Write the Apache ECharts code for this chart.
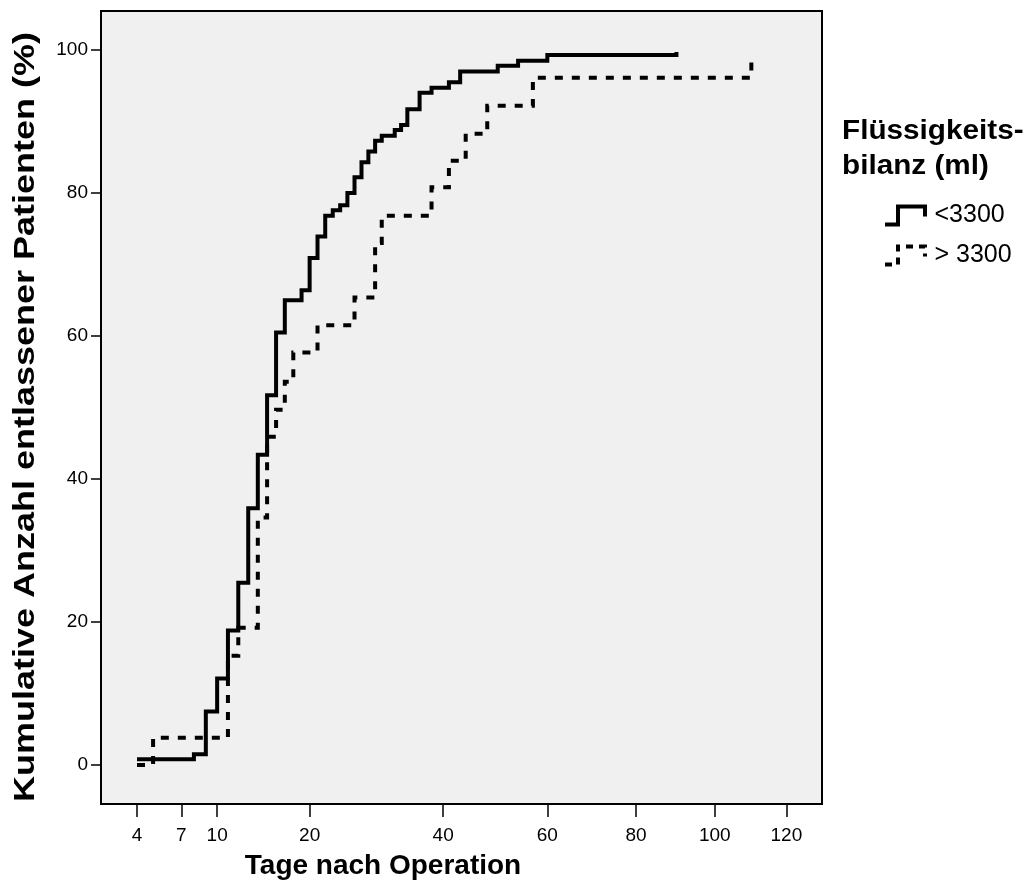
<!DOCTYPE html>
<html><head><meta charset="utf-8">
<script src="https://cdn.jsdelivr.net/npm/echarts@6/dist/echarts.min.js"></script>
<style>html,body{margin:0;padding:0;background:#fff}#c{width:1030px;height:896px}</style>
</head><body><div id="c"></div>
<script>
// ---- data ----
const xTicks = [4, 7, 10, 20, 40, 60, 80, 100, 120];
const yTicks = [0, 20, 40, 60, 80, 100];
const seriesNames = ['<3300', '> 3300'];
const lowDays = [4, 8, 9, 10, 11, 12, 13, 14, 15, 16, 17, 19, 20, 21, 22, 23, 24, 25, 26, 27, 28, 29, 30, 32, 33, 34, 36, 38, 41, 43, 50, 54, 60, 90];
const lowPct  = [0.8, 1.5, 7.5, 12.1, 18.8, 25.5, 35.9, 43.4, 51.7, 60.5, 65.0, 66.4, 70.9, 73.9, 76.8, 77.6, 78.3, 80.0, 82.2, 84.3, 85.8, 87.3, 88.0, 88.8, 89.5, 91.7, 94.0, 94.7, 95.5, 97.0, 97.8, 98.5, 99.3, 99.7];
const highDays = [4, 5, 11, 12, 14, 15, 16, 17, 18, 21, 26, 29, 30, 38, 41, 44, 48, 57, 110];
const highPct  = [0, 3.8, 15.3, 19.2, 34.6, 45.9, 49.7, 53.6, 57.7, 61.5, 65.4, 73.0, 76.8, 80.8, 84.5, 88.3, 92.2, 96.1, 99.1];
const xTitle = 'Tage nach Operation';
const yTitle = 'Kumulative Anzahl entlassener Patienten (%)';
const legendTitle = 'Flüssigkeits-\nbilanz (ml)';

// power scale of the day axis
const P = 0.53;
const tx = d => Math.pow(d, P);
const FONT = '"Liberation Sans", Arial, sans-serif';

const chart = echarts.init(document.getElementById('c'), null, {renderer: 'canvas'});
const iconPath = 'path://M0,18L13,18L13,0L40,0L40,10';
chart.setOption({
  animation: false,
  backgroundColor: '#ffffff',
  grid: {left: 101, top: 11, right: 208, bottom: 92, show: true,
         backgroundColor: '#f0f0f0', borderColor: '#000', borderWidth: 2},
  xAxis: {
    type: 'value', min: 1.4995, max: 13.2255,
    axisLine: {show: false, onZero: false}, splitLine: {show: false},
    axisTick: {show: true, customValues: xTicks.map(tx), length: 13, lineStyle: {color: '#000', width: 1.5}},
    axisLabel: {customValues: xTicks.map(tx), formatter: v => String(Math.round(Math.pow(v, 1 / P))),
                color: '#000', fontSize: 19, fontFamily: FONT, margin: 22}
  },
  yAxis: {
    type: 'value', min: -5.45, max: 105.45,
    axisLine: {show: false, onZero: false}, splitLine: {show: false},
    axisTick: {show: true, customValues: yTicks, length: 10, lineStyle: {color: '#000', width: 1.5}},
    axisLabel: {customValues: yTicks, color: '#000', fontSize: 19, fontFamily: FONT, margin: 13}
  },
  legend: {
    orient: 'vertical', left: 883, top: 203, padding: 0, itemWidth: 41, itemHeight: 18, itemGap: 15,
    textStyle: {color: '#000', fontSize: 25, fontFamily: FONT, lineHeight: 25, padding: [0, 0, 0, 4]},
    data: [
      {name: seriesNames[0], icon: iconPath,
       itemStyle: {color: 'rgba(0,0,0,0)', borderColor: '#000', borderWidth: 4, borderType: 'solid'}},
      {name: seriesNames[1], icon: iconPath,
       itemStyle: {color: 'rgba(0,0,0,0)', borderColor: '#000', borderWidth: 4, borderType: [7, 6]}}
    ]
  },
  graphic: [
    {type: 'text', x: 26, y: 417, rotation: Math.PI / 2, scaleX: 1.2,
     style: {text: yTitle, font: 'bold 30px ' + FONT, fill: '#000', align: 'center', verticalAlign: 'middle'}},
    {type: 'text', x: 383, y: 866,
     style: {text: xTitle, font: 'bold 28px ' + FONT, fill: '#000', align: 'center', verticalAlign: 'middle'}},
    {type: 'text', x: 842, y: 114, scaleX: 1.1,
     style: {text: legendTitle, font: 'bold 27px ' + FONT, lineHeight: 35, fill: '#000', align: 'left', verticalAlign: 'top'}}
  ],
  series: [
    {name: seriesNames[0], type: 'line', step: 'end', symbol: 'none',
     data: lowDays.map((d, i) => [tx(d), lowPct[i]]),
     lineStyle: {color: '#000', width: 4, type: 'solid', cap: 'butt', join: 'miter'}},
    {name: seriesNames[1], type: 'line', step: 'end', symbol: 'none',
     data: highDays.map((d, i) => [tx(d), highPct[i]]),
     lineStyle: {color: '#000', width: 4, type: [8, 9], cap: 'butt', join: 'miter'}}
  ]
});
</script>
</body></html>
